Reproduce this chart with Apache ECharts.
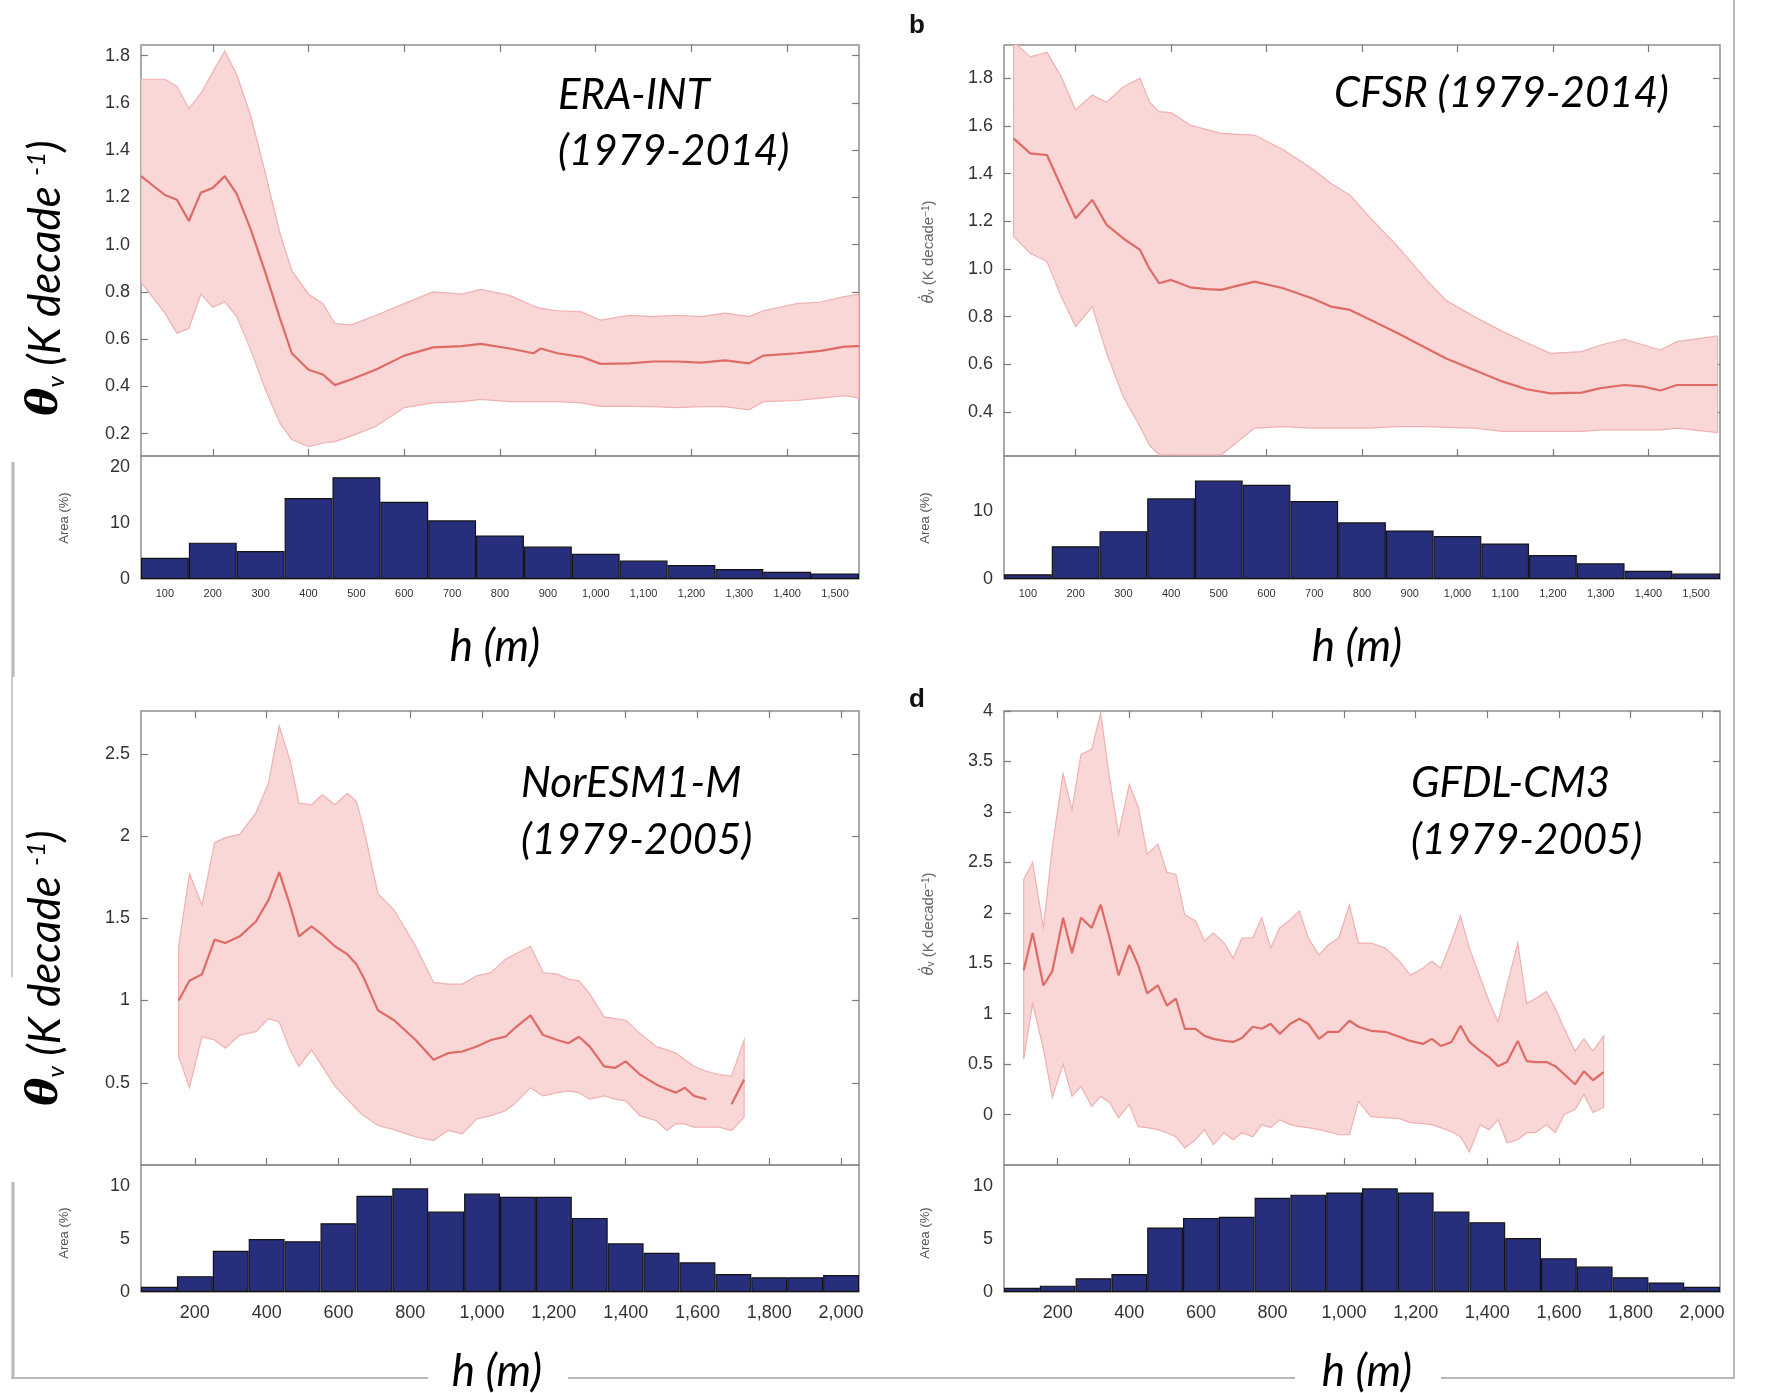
<!DOCTYPE html>
<html>
<head>
<meta charset="utf-8">
<script src="https://cdn.jsdelivr.net/npm/echarts@6/dist/echarts.min.js"></script>
<style>
  html, body { margin: 0; background: #fff; }
  #chart { width: 1765px; height: 1393px; }
</style>
</head>
<body>
<div id="chart"></div>
<script>
// ---- data ----
// a) ERA-INT
const eraH = [50,100,125,150,175,200,225,250,280,310,340,365,400,430,455,490,540,600,660,720,760,820,870,885,920,970,1010,1070,1120,1170,1220,1270,1320,1350,1420,1470,1520,1550];
const eraMean = [1.29,1.21,1.19,1.10,1.22,1.24,1.29,1.215,1.06,0.88,0.69,0.54,0.47,0.45,0.405,0.43,0.47,0.53,0.565,0.57,0.58,0.56,0.54,0.56,0.54,0.525,0.495,0.497,0.505,0.505,0.50,0.51,0.497,0.53,0.54,0.55,0.568,0.57];
const eraUpper = [1.70,1.70,1.67,1.575,1.64,1.73,1.82,1.72,1.54,1.30,1.05,0.89,0.79,0.75,0.666,0.66,0.70,0.75,0.80,0.79,0.81,0.785,0.74,0.73,0.72,0.715,0.68,0.70,0.695,0.70,0.695,0.71,0.695,0.72,0.75,0.757,0.78,0.79];
const eraLower = [0.84,0.71,0.625,0.645,0.79,0.735,0.757,0.695,0.55,0.385,0.245,0.175,0.145,0.16,0.166,0.19,0.23,0.31,0.33,0.335,0.345,0.335,0.335,0.335,0.335,0.33,0.315,0.315,0.314,0.31,0.314,0.314,0.30,0.335,0.34,0.35,0.36,0.35];
const eraArea = [3.8,6.5,5.0,14.5,18.2,13.8,10.5,7.8,5.8,4.5,3.3,2.5,1.8,1.3,1.0];

// b) CFSR
const cfsrH = [70,105,140,170,200,235,265,300,335,355,375,400,440,475,505,540,575,635,695,735,775,815,875,935,975,1035,1095,1145,1195,1260,1300,1350,1390,1425,1460,1545];
const cfsrMean = [1.548,1.485,1.478,1.345,1.213,1.29,1.185,1.128,1.08,1.0,0.94,0.954,0.923,0.915,0.912,0.93,0.947,0.919,0.877,0.842,0.828,0.789,0.73,0.667,0.625,0.576,0.527,0.495,0.478,0.481,0.50,0.513,0.506,0.49,0.513,0.513];
const cfsrUpper = [1.954,1.89,1.91,1.807,1.667,1.73,1.70,1.765,1.80,1.70,1.66,1.656,1.604,1.585,1.569,1.565,1.562,1.50,1.422,1.359,1.31,1.22,1.094,0.954,0.87,0.80,0.737,0.69,0.646,0.653,0.681,0.705,0.681,0.66,0.695,0.719];
const cfsrLower = [1.136,1.066,1.031,0.884,0.758,0.842,0.646,0.464,0.338,0.26,0.22,0.22,0.22,0.22,0.22,0.276,0.332,0.338,0.332,0.332,0.332,0.332,0.338,0.338,0.335,0.332,0.318,0.318,0.318,0.318,0.325,0.325,0.325,0.325,0.332,0.313];
const cfsrArea = [0.7,4.8,7.0,11.8,14.4,13.8,11.4,8.3,7.1,6.3,5.2,3.5,2.3,1.2,0.8];

// c) NorESM1-M
const norH = [155,185,220,255,285,325,370,405,435,465,490,525,555,590,625,650,670,710,755,815,865,905,945,985,1025,1065,1090,1135,1170,1210,1240,1270,1300,1340,1370,1400,1440,1485,1515,1540,1565,1590,1625,1660,1695,1730];
const norMean = [1.0,1.12,1.16,1.37,1.35,1.39,1.48,1.61,1.78,1.58,1.39,1.45,1.40,1.33,1.28,1.22,1.14,0.94,0.88,0.76,0.64,0.68,0.69,0.72,0.76,0.78,0.83,0.91,0.79,0.76,0.74,0.78,0.72,0.60,0.59,0.63,0.55,0.49,0.46,0.44,0.47,0.42,0.40,null,0.37,0.52];
const norUpper = [1.33,1.77,1.58,1.96,1.99,2.01,2.14,2.32,2.67,2.46,2.20,2.19,2.25,2.19,2.26,2.21,2.05,1.65,1.55,1.33,1.11,1.10,1.10,1.15,1.17,1.25,1.28,1.33,1.17,1.16,1.13,1.12,1.04,0.90,0.89,0.88,0.80,0.72,0.70,0.68,0.64,0.60,0.57,0.55,0.54,0.76];
const norLower = [0.66,0.47,0.78,0.76,0.71,0.79,0.81,0.89,0.87,0.70,0.60,0.70,0.60,0.48,0.40,0.34,0.30,0.24,0.215,0.17,0.15,0.21,0.19,0.28,0.30,0.33,0.37,0.47,0.42,0.44,0.45,0.44,0.40,0.42,0.40,0.39,0.30,0.27,0.21,0.25,0.25,0.23,0.23,0.23,0.21,0.29];
const norArea = [0.5,1.5,3.9,5.0,4.8,6.5,9.1,9.8,7.6,9.3,9.0,9.0,7.0,4.6,3.7,2.8,1.7,1.4,1.4,1.6];

// d) GFDL-CM3
const gfdlH = [105,130,160,185,215,240,265,295,320,345,370,400,425,450,480,505,530,555,585,610,635,665,690,715,745,770,795,820,850,875,900,930,955,985,1015,1040,1075,1115,1155,1185,1220,1245,1270,1300,1325,1350,1380,1405,1430,1455,1485,1510,1535,1565,1590,1615,1645,1670,1695,1725];
const gfdlMean = [1.43,1.80,1.28,1.42,1.95,1.60,1.95,1.85,2.08,1.75,1.38,1.68,1.48,1.20,1.28,1.08,1.15,0.85,0.85,0.78,0.75,0.73,0.72,0.76,0.87,0.85,0.90,0.80,0.90,0.95,0.90,0.75,0.82,0.82,0.93,0.87,0.83,0.82,0.77,0.73,0.70,0.75,0.68,0.72,0.88,0.72,0.63,0.57,0.48,0.52,0.73,0.53,0.52,0.52,0.48,0.40,0.30,0.43,0.34,0.42];
const gfdlUpper = [2.33,2.50,1.85,2.65,3.38,3.02,3.57,3.62,3.98,3.33,2.78,3.27,3.05,2.58,2.68,2.40,2.38,1.98,1.92,1.72,1.80,1.70,1.55,1.75,1.75,1.95,1.65,1.85,1.93,2.02,1.75,1.58,1.68,1.75,2.08,1.70,1.70,1.65,1.52,1.38,1.45,1.52,1.45,1.72,1.97,1.65,1.36,1.12,0.92,1.28,1.70,1.10,1.15,1.22,1.05,0.85,0.63,0.75,0.63,0.78];
const gfdlLower = [0.55,1.10,0.65,0.17,0.50,0.18,0.28,0.08,0.18,0.12,-0.03,0.10,-0.12,-0.13,-0.15,-0.18,-0.22,-0.33,-0.25,-0.15,-0.30,-0.18,-0.25,-0.18,-0.22,-0.10,-0.13,-0.05,-0.10,-0.12,-0.13,-0.15,-0.17,-0.20,-0.20,0.13,-0.02,-0.03,-0.04,-0.08,-0.09,-0.10,-0.13,-0.17,-0.22,-0.37,-0.10,-0.15,-0.05,-0.28,-0.25,-0.18,-0.18,-0.10,-0.18,0.00,0.05,0.20,0.02,0.07];
const gfdlArea = [0.4,0.6,1.3,1.7,6.1,7.0,7.1,8.9,9.2,9.4,9.8,9.4,7.6,6.6,5.1,3.2,2.4,1.4,0.9,0.5];

// bins and tick labels
const binsShort = [100,200,300,400,500,600,700,800,900,1000,1100,1200,1300,1400,1500];
const binsLong = [100,200,300,400,500,600,700,800,900,1000,1100,1200,1300,1400,1500,1600,1700,1800,1900,2000];
const eraYTicks = [0.2,0.4,0.6,0.8,1.0,1.2,1.4,1.6,1.8];
const cfsrYTicks = [0.4,0.6,0.8,1.0,1.2,1.4,1.6,1.8];
const norYTicks = [0.5,1,1.5,2,2.5];
const gfdlYTicks = [0,0.5,1,1.5,2,2.5,3,3.5,4];
const eraAreaTicks = [0,10,20];
const cfsrAreaTicks = [0,10];
const modelAreaTicks = [0,5,10];
const shortXTicks = [200,400,600,800,1000,1200,1400];
const longXTicks = [200,400,600,800,1000,1200,1400,1600,1800,2000];

// ---- styling ----
const pink = '#f9d7d7';
const pinkEdge = '#f0b0b0';
const meanRed = '#de6b66';
const navy = '#272e7c';
const frameGray = '#8e8e8e';
const tickGray = '#7a7a7a';
const labelColor = '#333';

const panels = [
  { left: 141, width: 718, top: 45, split: 456, bottom: 579, xMax: 1550,
    yMin: 0.105, yMax: 1.845, yTicks: eraYTicks, yFmt: v => v.toFixed(1),
    h: eraH, mean: eraMean, upper: eraUpper, lower: eraLower,
    bins: binsShort, area: eraArea, areaMax: 22, areaTicks: eraAreaTicks,
    xTicks: shortXTicks, xFont: 11, every: 1, labelMargin: 9 },
  { left: 1004, width: 716, top: 45, split: 456, bottom: 579, xMax: 1550,
    yMin: 0.215, yMax: 1.94, yTicks: cfsrYTicks, yFmt: v => v.toFixed(1),
    h: cfsrH, mean: cfsrMean, upper: cfsrUpper, lower: cfsrLower,
    bins: binsShort, area: cfsrArea, areaMax: 18, areaTicks: cfsrAreaTicks,
    xTicks: shortXTicks, xFont: 11, every: 1, labelMargin: 9 },
  { left: 141, width: 718, top: 711, split: 1165, bottom: 1292, xMax: 2050,
    yMin: 0, yMax: 2.76, yTicks: norYTicks, yFmt: v => String(v),
    h: norH, mean: norMean, upper: norUpper, lower: norLower,
    bins: binsLong, area: norArea, areaMax: 12, areaTicks: modelAreaTicks,
    xTicks: longXTicks, xFont: 18, every: 2, labelMargin: 12 },
  { left: 1004, width: 716, top: 711, split: 1165, bottom: 1292, xMax: 2050,
    yMin: -0.5, yMax: 4.0, yTicks: gfdlYTicks, yFmt: v => String(v),
    h: gfdlH, mean: gfdlMean, upper: gfdlUpper, lower: gfdlLower,
    bins: binsLong, area: gfdlArea, areaMax: 12, areaTicks: modelAreaTicks,
    xTicks: longXTicks, xFont: 18, every: 2, labelMargin: 12 }
];

const grid = [], xAxis = [], yAxis = [], series = [];

const tickStyle = { lineStyle: { color: tickGray, width: 1.2 } };
const noLine = { show: false, onZero: false };

panels.forEach((p, i) => {
  grid.push({ left: p.left, top: p.top, width: p.width, height: p.split - p.top,
              show: true, borderColor: frameGray, borderWidth: 1.5 });
  grid.push({ left: p.left, top: p.split, width: p.width, height: p.bottom - p.split,
              show: true, borderColor: frameGray, borderWidth: 1.5 });

  const lineX = { gridIndex: 2 * i, type: 'value', min: 50, max: p.xMax,
    axisLine: noLine, splitLine: { show: false }, axisLabel: { show: false },
    axisTick: { inside: true, length: 7, customValues: p.xTicks, ...tickStyle } };
  xAxis.push({ ...lineX, position: 'bottom' });
  xAxis.push({ ...lineX, position: 'top' });

  const showEvery = idx => (idx % p.every) === (p.every - 1);
  const histX = { gridIndex: 2 * i + 1, type: 'category', data: p.bins, boundaryGap: true,
    axisLine: noLine, splitLine: { show: false },
    axisTick: { inside: true, length: 6, alignWithLabel: true, interval: showEvery, ...tickStyle } };
  xAxis.push({ ...histX, position: 'bottom',
    axisLabel: { interval: showEvery, fontSize: p.xFont, color: labelColor, margin: p.labelMargin,
                 fontFamily: 'Liberation Sans',
                 formatter: v => Number(v).toLocaleString('en-US') } });
  xAxis.push({ ...histX, position: 'top', axisLabel: { show: false } });

  const lineY = { gridIndex: 2 * i, type: 'value', min: p.yMin, max: p.yMax,
    axisLine: noLine, splitLine: { show: false },
    axisTick: { inside: true, length: 7, customValues: p.yTicks, ...tickStyle } };
  yAxis.push({ ...lineY, position: 'left',
    axisLabel: { customValues: p.yTicks, formatter: p.yFmt, fontSize: 18, color: labelColor,
                 margin: 11, fontFamily: 'Liberation Sans' } });
  yAxis.push({ ...lineY, position: 'right', axisLabel: { show: false } });

  const histY = { gridIndex: 2 * i + 1, type: 'value', min: 0, max: p.areaMax,
    axisLine: noLine, splitLine: { show: false },
    axisTick: { inside: true, length: 6, customValues: p.areaTicks, ...tickStyle } };
  yAxis.push({ ...histY, position: 'left',
    axisLabel: { customValues: p.areaTicks, fontSize: 18, color: labelColor, margin: 11,
                 fontFamily: 'Liberation Sans' } });
  yAxis.push({ ...histY, position: 'right', axisLabel: { show: false } });

  const ax = 4 * i;
  // spread band: one polygon, upper edge forward and lower edge back, placed by the axes
  series.push({
    type: 'custom', xAxisIndex: ax, yAxisIndex: ax, silent: true, z: 2,
    data: p.h.map((x, k) => [x, p.lower[k], p.upper[k]]),
    encode: { x: 0, y: [1, 2] },
    renderItem: (params, api) => {
      if (params.dataIndex !== 0) return null;
      const topEdge = p.h.map((x, k) => api.coord([x, p.upper[k]]));
      const lowEdge = p.h.map((x, k) => api.coord([x, p.lower[k]])).reverse();
      const cs = params.coordSys;
      return {
        type: 'polygon',
        shape: { points: topEdge.concat(lowEdge) },
        style: { fill: pink, stroke: pinkEdge, lineWidth: 1.2 },
        clipPath: { type: 'rect', shape: { x: cs.x, y: cs.y, width: cs.width, height: cs.height } }
      };
    }
  });
  series.push({
    type: 'line', xAxisIndex: ax, yAxisIndex: ax,
    data: p.h.map((x, k) => [x, p.mean[k]]),
    symbol: 'none', silent: true, z: 4, connectNulls: false,
    lineStyle: { color: meanRed, width: 2.2 }
  });
  series.push({
    type: 'bar', xAxisIndex: ax + 2, yAxisIndex: ax + 2,
    data: p.area, barCategoryGap: '0%', silent: true,
    itemStyle: { color: navy, borderColor: '#141414', borderWidth: 1.2 }
  });
});

// ---- text and decorations ----
const italic = { fontFamily: 'Lato', fontStyle: 'italic', fontSize: 44, fill: '#000' };

function txt(x, y, text, extra) {
  return { type: 'text', x, y, silent: true,
           style: { text, ...italic, align: 'left', verticalAlign: 'middle', ...extra } };
}

function title(x, y, text) {
  return txt(x, y, text, { fontSize: 42 });
}

function bigYLabel(x, y) {
  return { type: 'text', x, y, rotation: Math.PI / 2, silent: true,
    style: {
      text: '{t|θ}{s|v} (K decade {p|-1})',
      ...italic, align: 'center', verticalAlign: 'middle',
      rich: {
        t: { fontFamily: 'DejaVu Serif', fontStyle: 'italic', fontWeight: 'bold', fontSize: 42, fill: '#000' },
        s: { fontFamily: 'Lato', fontStyle: 'italic', fontSize: 24, verticalAlign: 'bottom', fill: '#000' },
        p: { fontFamily: 'Lato', fontStyle: 'italic', fontSize: 26, verticalAlign: 'top', fill: '#000' }
      }
    } };
}

function smallYLabel(x, y) {
  return { type: 'text', x, y, rotation: Math.PI / 2, silent: true,
    style: {
      text: '{d|θ̇}{s|v} (K decade{p|−1})',
      fontFamily: 'Liberation Sans', fontSize: 15, fill: '#666',
      align: 'center', verticalAlign: 'middle',
      rich: {
        d: { fontFamily: 'DejaVu Sans', fontStyle: 'italic', fontSize: 15, fill: '#666' },
        s: { fontSize: 10, verticalAlign: 'bottom', fill: '#666' },
        p: { fontSize: 10, verticalAlign: 'top', fill: '#666' }
      }
    } };
}

function areaLabel(x, y) {
  return { type: 'text', x, y, rotation: Math.PI / 2, silent: true,
    style: { text: 'Area (%)', fontFamily: 'Liberation Sans', fontSize: 13, fill: '#555',
             align: 'center', verticalAlign: 'middle' } };
}

function seg(x1, y1, x2, y2, w) {
  return { type: 'line', silent: true, shape: { x1, y1, x2, y2 },
           style: { stroke: '#b8b8b8', lineWidth: w } };
}

const graphic = [
  seg(1734, 0, 1734, 1378, 2),
  seg(11, 1378, 428, 1378, 2),
  seg(568, 1378, 1295, 1378, 2),
  seg(1441, 1378, 1735, 1378, 2),
  seg(13, 462, 13, 677, 3),
  seg(12, 677, 12, 977, 1.5),
  seg(13, 1182, 13, 1378, 3),

  title(558, 95, 'ERA-INT'),
  title(558, 151, '(1979-2014)'),
  title(1334, 93, 'CFSR (1979-2014)'),
  title(521, 783, 'NorESM1-M'),
  title(521, 840, '(1979-2005)'),
  title(1411, 783, 'GFDL-CM3'),
  title(1411, 840, '(1979-2005)'),

  txt(495, 647, 'h (m)', { align: 'center' }),
  txt(1357, 647, 'h (m)', { align: 'center' }),
  txt(497, 1372, 'h (m)', { align: 'center' }),
  txt(1367, 1372, 'h (m)', { align: 'center' }),

  bigYLabel(46, 278),
  bigYLabel(46, 968),
  smallYLabel(929, 252),
  smallYLabel(929, 924),
  areaLabel(64, 518),
  areaLabel(925, 518),
  areaLabel(64, 1233),
  areaLabel(925, 1233),

  { type: 'text', x: 917, y: 26, silent: true,
    style: { text: 'b', fontFamily: 'Liberation Sans', fontWeight: 'bold', fontSize: 26, fill: '#111',
             align: 'center', verticalAlign: 'middle' } },
  { type: 'text', x: 917, y: 700, silent: true,
    style: { text: 'd', fontFamily: 'Liberation Sans', fontWeight: 'bold', fontSize: 26, fill: '#111',
             align: 'center', verticalAlign: 'middle' } }
];

const chart = echarts.init(document.getElementById('chart'));
chart.setOption({
  backgroundColor: '#fff',
  animation: false,
  grid, xAxis, yAxis, series, graphic
});
</script>
</body>
</html>
